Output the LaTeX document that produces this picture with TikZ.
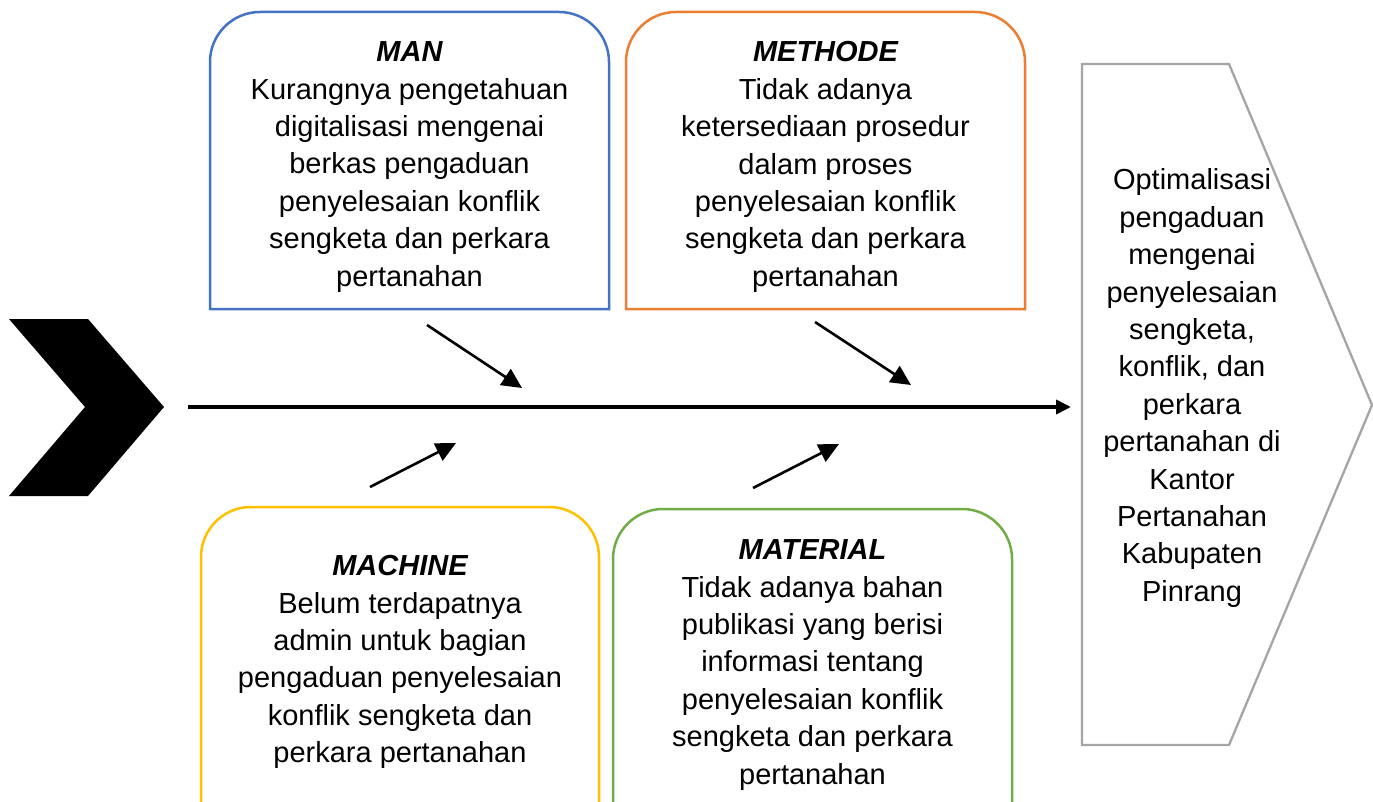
\documentclass[tikz,border=0pt]{standalone}
\usepackage{fontspec}
\setmainfont{Liberation Sans}
\usetikzlibrary{arrows.meta}
\definecolor{cblue}{HTML}{4472C4}
\definecolor{corange}{HTML}{ED7D31}
\definecolor{cyellow}{HTML}{FFC000}
\definecolor{cgreen}{HTML}{70AD47}
\definecolor{cgray}{HTML}{A5A5A5}
\begin{document}
\begin{tikzpicture}[x=1pt,y=-1pt,
  boxline/.style={line width=2.5pt},
  txt/.style={align=center,inner sep=0pt,font=\fontsize{29}{37.4}\selectfont},
  cause/.style={line width=2.6pt,-{Triangle[length=20pt,width=19pt]}},
  spine/.style={line width=3.6pt,-{Triangle[length=15pt,width=14pt]}}]
\useasboundingbox (0,0) rectangle (1373,802);
\clip (0,0) rectangle (1373,802);
\fill[white] (0,0) rectangle (1373,802);
% chevron
\fill[black] (9,319) -- (88,319) -- (164,407) -- (88,496) -- (9,496) -- (85,407) -- cycle;
% result pentagon
\draw[cgray,line width=2.3pt] (1082,64) -- (1229,64) -- (1372,405) -- (1229,745) -- (1082,745) -- cycle;
% boxes
\draw[cblue,boxline] (210,309) -- (210,62) arc[start angle=180,end angle=270,radius=50] -- (559,12) arc[start angle=270,end angle=360,radius=50] -- (609,309) -- cycle;
\draw[corange,boxline] (626,309) -- (626,62) arc[start angle=180,end angle=270,radius=50] -- (975,12) arc[start angle=270,end angle=360,radius=50] -- (1025,309) -- cycle;
\draw[cyellow,boxline] (201,820) -- (201,557) arc[start angle=180,end angle=270,radius=50] -- (549,507) arc[start angle=270,end angle=360,radius=50] -- (599,820);
\draw[cgreen,boxline] (613,820) -- (613,559) arc[start angle=180,end angle=270,radius=50] -- (962,509) arc[start angle=270,end angle=360,radius=50] -- (1012,820);
% texts
\node[txt] (man) at (409.5,167) {{\bfseries\itshape MAN}\\Kurangnya pengetahuan\\digitalisasi mengenai\\berkas pengaduan\\penyelesaian konflik\\sengketa dan perkara\\pertanahan};
\node[txt] (methode) at (825.5,167) {{\bfseries\itshape METHODE}\\Tidak adanya\\ketersediaan prosedur\\dalam proses\\penyelesaian konflik\\sengketa dan perkara\\pertanahan};
\node[txt] (machine) at (400,662) {{\bfseries\itshape MACHINE}\\Belum terdapatnya\\admin untuk bagian\\pengaduan penyelesaian\\konflik sengketa dan\\perkara pertanahan};
\node[txt] (material) at (812.5,665) {{\bfseries\itshape MATERIAL}\\Tidak adanya bahan\\publikasi yang berisi\\informasi tentang\\penyelesaian konflik\\sengketa dan perkara\\pertanahan};
\node[txt] (result) at (1192,388) {Optimalisasi\\pengaduan\\mengenai\\penyelesaian\\sengketa,\\konflik, dan\\perkara\\pertanahan di\\Kantor\\Pertanahan\\Kabupaten\\Pinrang};
% spine
\coordinate (s0) at (188,407);
\coordinate (s1) at (1071,407);
\draw[spine] (s0) -- (s1);
% cause arrows
\coordinate (a0) at (427,325); \coordinate (a1) at (522,388);
\coordinate (b0) at (815,322); \coordinate (b1) at (911,385);
\coordinate (c0) at (370,487); \coordinate (c1) at (456,443);
\coordinate (d0) at (753,488); \coordinate (d1) at (839,444);
\draw[cause] (a0) -- (a1);
\draw[cause] (b0) -- (b1);
\draw[cause] (c0) -- (c1);
\draw[cause] (d0) -- (d1);
\end{tikzpicture}
\end{document}
